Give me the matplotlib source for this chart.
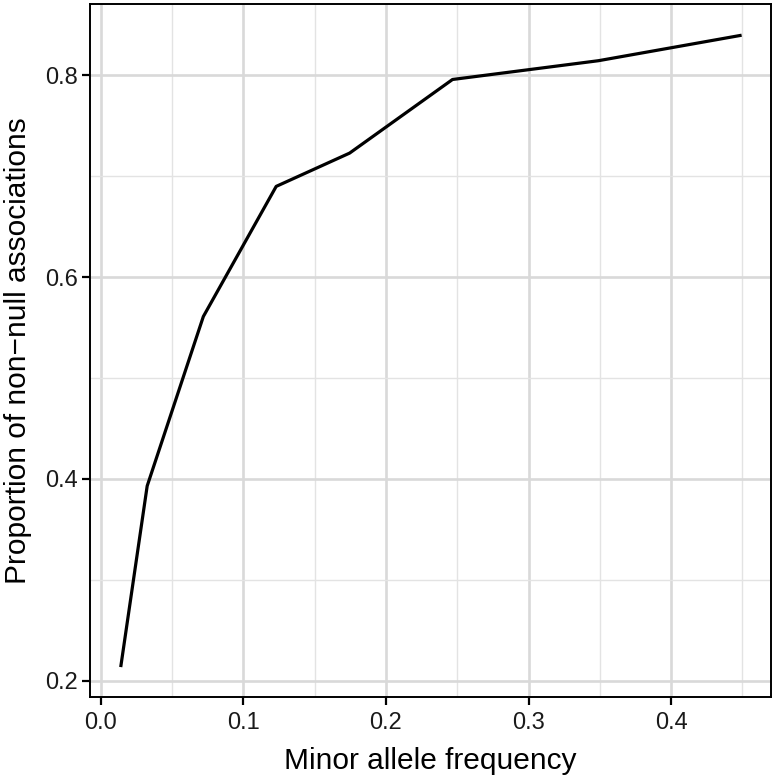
import matplotlib
matplotlib.use("Agg")
from matplotlib import pyplot as plt
from matplotlib.ticker import MultipleLocator

# values
maf = [0.0141, 0.0325, 0.0719, 0.123, 0.1745, 0.2467, 0.349, 0.4484]
prop_non_null = [0.215, 0.393, 0.561, 0.690, 0.723, 0.796, 0.8146, 0.8396]
x_ticks = [0.0, 0.1, 0.2, 0.3, 0.4]
y_ticks = [0.2, 0.4, 0.6, 0.8]

plt.rcParams['font.family'] = ['Liberation Sans', 'DejaVu Sans']

fig = plt.figure(figsize=(7.78, 7.77), dpi=100)
ax = fig.add_axes([90/778, 80/777, 681/778, 693/777])

ax.plot(maf, prop_non_null, color="black", lw=2.3, solid_joinstyle="round", zorder=3)

# ggplot-like 5% expansion
xr = max(maf) - min(maf)
yr = max(prop_non_null) - min(prop_non_null)
ax.set_xlim(min(maf) - 0.05*xr, max(maf) + 0.05*xr)
ax.set_ylim(min(prop_non_null) - 0.05*yr, max(prop_non_null) + 0.05*yr)

ax.set_xticks(x_ticks)
ax.set_yticks(y_ticks)
ax.set_xticklabels([f"{t:.1f}" for t in x_ticks])
ax.set_yticklabels([f"{t:.1f}" for t in y_ticks])
ax.xaxis.set_minor_locator(MultipleLocator(0.05))
ax.yaxis.set_minor_locator(MultipleLocator(0.1))

ax.grid(which="major", color="#d9d9d9", lw=1.9, zorder=0)
ax.grid(which="minor", color="#e3e3e3", lw=1.0, zorder=0)
ax.set_axisbelow(True)

ax.tick_params(which="major", length=6, width=1.6, color="black",
               labelsize=17, labelcolor="#1a1a1a", pad=3)
ax.tick_params(axis="x", which="major", pad=5)
ax.tick_params(which="minor", length=0)
for s in ax.spines.values():
    s.set_color("black")
    s.set_linewidth(1.4)

ax.set_xlabel("Minor allele frequency", fontsize=21.5, labelpad=9)
ax.set_ylabel("Proportion of non\u2212null associations", fontsize=21.5, labelpad=9)

fig.savefig("out.png", dpi=100)
